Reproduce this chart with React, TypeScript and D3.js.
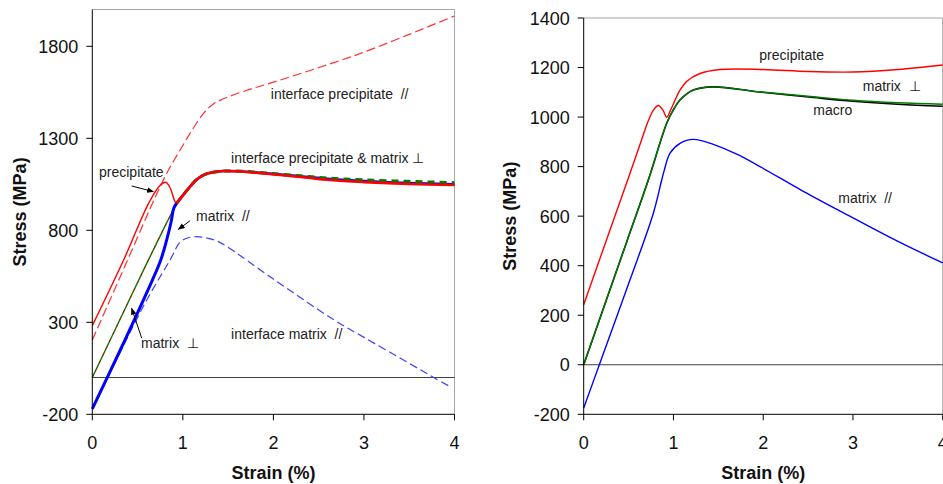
import React from "react";
import * as d3 from "d3";

// ---------- Left panel data ----------
const leftXTicks = [0, 1, 2, 3, 4];
const leftYTicks = [-200, 300, 800, 1300, 1800];

const precipStrainL = [0, 0.35, 0.62, 0.74, 0.811, 0.86, 0.914, 0.932];
const precipStressL = [282, 643, 945, 1040, 1061, 1030, 955, 947];

const ifPrecipParStrain = [0, 0.39, 0.7, 0.822, 0.95, 1.08, 1.22, 1.34, 1.45, 1.7, 2.0, 2.66, 3.0, 3.5, 4.0];
const ifPrecipParStress = [204, 639, 985, 1110, 1220, 1327, 1430, 1488, 1515, 1560, 1605, 1710, 1768, 1865, 1965];

const matrixPerpStrainL = [0, 0.3, 0.62, 0.8, 0.932];
const matrixPerpStressL = [0, 310, 639, 820, 947];

const matrixParStrainL = [0, 0.3, 0.6, 0.75, 0.82, 0.87, 0.9, 0.932];
const matrixParStressL = [-170, 140, 460, 630, 745, 845, 920, 947];

const ifMatrixParStrain = [0, 0.3, 0.6, 0.86, 0.97, 1.05, 1.135, 1.25, 1.375, 1.485, 2.0, 2.66, 3.0, 3.5, 3.77, 3.96];
const ifMatrixParStress = [-170, 130, 420, 640, 736, 758, 765, 760, 742, 712, 535, 316, 218, 77, 0, -52];

const plateauStrain = [0.932, 1.0, 1.08, 1.15, 1.227, 1.33, 1.448, 1.6, 1.96, 2.3, 2.63, 3.0, 3.5, 4.0];
const plateauRed = [947, 990, 1037, 1075, 1100, 1115, 1122, 1121, 1106, 1090, 1073, 1062, 1052, 1046];
const plateauGreen = [947, 990, 1037, 1075, 1100, 1115, 1122, 1122, 1110, 1096, 1083, 1074, 1066, 1059];
const plateauBlue = [947, 990, 1037, 1075, 1100, 1115, 1122, 1121, 1108, 1093, 1078, 1067, 1057, 1050];

// ---------- Right panel data ----------
const rightXTicks = [0, 1, 2, 3, 4];
const rightYTicks = [-200, 0, 200, 400, 600, 800, 1000, 1200, 1400];

const precipStrainR = [0, 0.24, 0.49, 0.628, 0.72, 0.78, 0.83, 0.88, 0.925, 0.97, 1.073, 1.15, 1.296, 1.52, 2.0, 2.5, 3.0, 3.5, 4.0];
const precipStressR = [242, 490, 746, 890, 985, 1030, 1047, 1030, 999, 1030, 1109, 1145, 1176, 1192, 1192, 1184, 1182, 1192, 1210];

const perpStrainR = [0, 0.479, 0.72, 0.925, 1.0, 1.073, 1.22, 1.444, 1.965, 2.56, 3.0, 3.5, 4.0];
const perpStressR = [0, 496, 746, 975, 1030, 1069, 1109, 1122, 1102, 1082, 1068, 1058, 1052];
const macroStressR = [0, 496, 746, 975, 1030, 1069, 1109, 1122, 1101, 1079, 1064, 1052, 1044];

const parStrainR = [0, 0.174, 0.516, 0.776, 0.869, 0.898, 0.962, 1.073, 1.22, 1.444, 1.705, 1.965, 2.447, 3.0, 3.49, 4.0];
const parStressR = [-175, 0, 343, 612, 746, 786, 854, 894, 910, 890, 850, 800, 700, 593, 500, 411];

// ---------- Labels ----------
const leftLabels = [
  { text: "interface precipitate  //", s: 1.971, v: 1514 },
  { text: "interface precipitate & matrix \u22A5", s: 1.533, v: 1166 },
  { text: "precipitate", s: 0.074, v: 1090 },
  { text: "matrix  //", s: 1.146, v: 851 },
  { text: "matrix  \u22A5", s: 0.538, v: 160 },
  { text: "interface matrix  //", s: 1.533, v: 209 },
];
const leftArrows = [
  { s0: 0.435, v0: 1041, s1: 0.674, v1: 1010 },
  { s0: 1.08, v0: 852, s1: 0.95, v1: 805 },
  { s0: 0.546, v0: 213, s1: 0.435, v1: 376 },
];
const rightLabels = [
  { text: "precipitate", s: 1.957, v: 1231 },
  { text: "matrix  \u22A5", s: 3.109, v: 1104 },
  { text: "macro", s: 2.558, v: 1009 },
  { text: "matrix  //", s: 2.837, v: 654 },
];

const FONT = "'Liberation Sans', Arial, Helvetica, sans-serif";

function zip(xs: number[], ys: number[]): [number, number][] {
  return xs.map((x, i) => [x, ys[i]]);
}

function Panel(props: {
  x0: number; x1: number; yTop: number; yBot: number;
  yDomain: [number, number]; yTicks: number[]; xTicks: number[];
  titleX: number;
  children: (x: d3.ScaleLinear<number, number>, y: d3.ScaleLinear<number, number>) => React.ReactNode;
}) {
  const { x0, x1, yTop, yBot, yDomain, yTicks, xTicks, titleX } = props;
  const x = d3.scaleLinear().domain([0, 4]).range([x0, x1]);
  const y = d3.scaleLinear().domain(yDomain).range([yBot, yTop]);
  return (
    <g>
      <line x1={x0} x2={x1} y1={yTop} y2={yTop} stroke="#a6a6a6" strokeWidth={1} />
      <line x1={x1} x2={x1} y1={yTop} y2={yBot} stroke="#a6a6a6" strokeWidth={1} />
      <line x1={x(0)} x2={x(4)} y1={y(0)} y2={y(0)} stroke="#404040" strokeWidth={1} />
      {props.children(x, y)}
      <line x1={x0} x2={x0} y1={yTop} y2={yBot} stroke="#000" strokeWidth={1} />
      <line x1={x0} x2={x1} y1={yBot} y2={yBot} stroke="#000" strokeWidth={1} />
      {yTicks.map((t) => (
        <g key={"y" + t}>
          <line x1={x0 - 6} x2={x0} y1={y(t)} y2={y(t)} stroke="#000" />
          <text x={x0 - 14} y={y(t) + 6.5} textAnchor="end" fontSize={18} fontFamily={FONT} fill="#111">{t}</text>
        </g>
      ))}
      {xTicks.map((t) => (
        <g key={"x" + t}>
          <line x1={x(t)} x2={x(t)} y1={yBot} y2={yBot + 6} stroke="#000" />
          <text x={x(t)} y={448.5} textAnchor="middle" fontSize={18} fontFamily={FONT} fill="#111">{t}</text>
        </g>
      ))}
      <text x={(x0 + x1) / 2} y={479} textAnchor="middle" fontSize={18} fontWeight="bold" fontFamily={FONT} fill="#111">Strain (%)</text>
      <text transform={`translate(${titleX},${(yTop + yBot) / 2}) rotate(-90)`} textAnchor="middle" fontSize={18} fontWeight="bold" fontFamily={FONT} fill="#111">Stress (MPa)</text>
    </g>
  );
}

export default function App() {
  const mk = (x: d3.ScaleLinear<number, number>, y: d3.ScaleLinear<number, number>) =>
    d3.line<[number, number]>().x((d) => x(d[0])).y((d) => y(d[1])).curve(d3.curveCatmullRom.alpha(0.5));

  return (
    <svg width={943} height={484} style={{ position: "fixed", left: 0, top: 0, background: "#fff" }}>
      <defs>
        <marker id="ah" viewBox="0 0 10 10" refX="9" refY="5" markerWidth="7" markerHeight="7" orient="auto-start-reverse">
          <path d="M0,1 L10,5 L0,9 z" fill="#000" />
        </marker>
      </defs>
      <Panel x0={92.3} x1={454.5} yTop={9.5} yBot={414.3} yDomain={[-200, 2000]} yTicks={leftYTicks} xTicks={leftXTicks} titleX={26}>
        {(x, y) => {
          const line = mk(x, y);
          return (
            <g fill="none">
              <path d={line(zip(ifPrecipParStrain, ifPrecipParStress)) || ""} stroke="#ff3030" strokeWidth={1.2} strokeDasharray="9,4" />
              <path d={line(zip(ifMatrixParStrain, ifMatrixParStress)) || ""} stroke="#3f3fff" strokeWidth={1.2} strokeDasharray="8,4" />
              <path d={line(zip(matrixPerpStrainL, matrixPerpStressL)) || ""} stroke="#007a00" strokeWidth={1.4} />
              <path d={line(zip(matrixPerpStrainL, matrixPerpStressL)) || ""} stroke="#e00000" strokeWidth={1} strokeDasharray="3,5" />
              <path d={line(zip(precipStrainL, precipStressL)) || ""} stroke="#ff0000" strokeWidth={1.4} />
              <path d={line(zip(matrixParStrainL, matrixParStressL)) || ""} stroke="#0000ff" strokeWidth={3} />
              <path d={line(zip(plateauStrain, plateauBlue)) || ""} stroke="#0000ff" strokeWidth={2.6} />
              <path d={line(zip(plateauStrain, plateauGreen)) || ""} stroke="#007a00" strokeWidth={3} strokeDasharray="7,5" />
              <path d={line(zip(plateauStrain, plateauRed)) || ""} stroke="#ff0000" strokeWidth={2.6} />
              {leftArrows.map((a, i) => (
                <line key={i} x1={x(a.s0)} y1={y(a.v0)} x2={x(a.s1)} y2={y(a.v1)} stroke="#000" strokeWidth={1} markerEnd="url(#ah)" />
              ))}
              {leftLabels.map((l, i) => (
                <text key={i} x={x(l.s)} y={y(l.v)} fontSize={14} fontFamily={FONT} fill="#222" stroke="none" style={{ whiteSpace: "pre" }}>{l.text}</text>
              ))}
            </g>
          );
        }}
      </Panel>
      <Panel x0={583.7} x1={942.7} yTop={18} yBot={414.3} yDomain={[-200, 1400]} yTicks={rightYTicks} xTicks={rightXTicks} titleX={516}>
        {(x, y) => {
          const line = mk(x, y);
          return (
            <g fill="none">
              <path d={line(zip(perpStrainR, macroStressR)) || ""} stroke="#000" strokeWidth={1.6} />
              <path d={line(zip(perpStrainR, perpStressR)) || ""} stroke="#007a00" strokeWidth={1.4} />
              <path d={line(zip(precipStrainR, precipStressR)) || ""} stroke="#ff0000" strokeWidth={1.4} />
              <path d={line(zip(parStrainR, parStressR)) || ""} stroke="#0000ff" strokeWidth={1.4} />
              {rightLabels.map((l, i) => (
                <text key={i} x={x(l.s)} y={y(l.v)} fontSize={14} fontFamily={FONT} fill="#222" stroke="none" style={{ whiteSpace: "pre" }}>{l.text}</text>
              ))}
            </g>
          );
        }}
      </Panel>
    </svg>
  );
}
